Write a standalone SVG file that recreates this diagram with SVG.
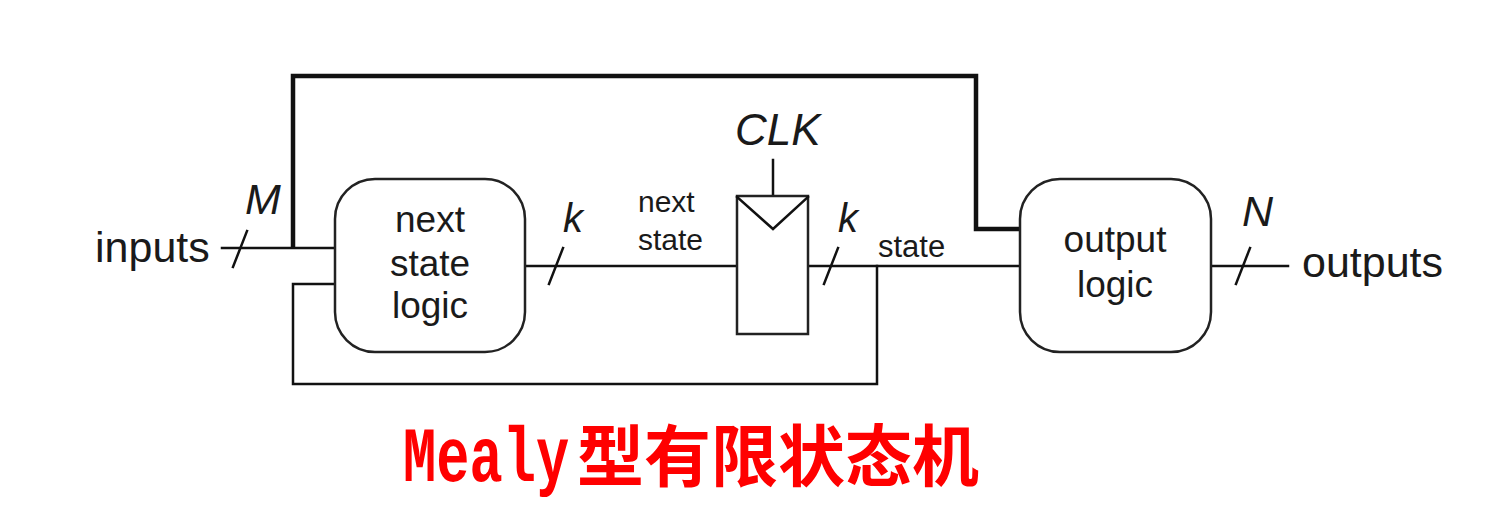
<svg xmlns="http://www.w3.org/2000/svg" width="1492" height="510" viewBox="0 0 1492 510">
<style>
.w{fill:none;stroke:#111;stroke-width:2.5;stroke-linecap:square}
.t{fill:none;stroke:#111;stroke-width:4.5;stroke-linejoin:miter}
.box{fill:#fff;stroke:#222;stroke-width:2.5}
.lb{font-family:"Liberation Sans",Arial,sans-serif;fill:#1a1a1a}
.it{font-style:italic}
.c{text-anchor:middle}
</style>
<rect width="1492" height="510" fill="#fff"/>
<g id="connectors">
<path class="t" d="M293,248 V76 H976 V229 H1020"/>
<path class="w" d="M222,248 H335"/>
<path class="w" d="M877,266 V384 H293 V284 H335"/>
<path class="w" d="M525,266 H737"/>
<path class="w" d="M808,266 H1020"/>
<path class="w" d="M773,160 V196"/>
<path class="w" d="M1211,266 H1288"/>
<g class="w">
<path d="M233,267 L247,231"/>
<path d="M549,284 L563,248"/>
<path d="M824,284 L838,248"/>
<path d="M1236,284 L1250,248"/>
</g>
</g>
<g id="next_state_logic">
<rect class="box" x="335" y="179" width="190" height="173" rx="40"/>
<text class="lb c" x="430" y="232" font-size="37">next</text>
<text class="lb c" x="430" y="276" font-size="37">state</text>
<text class="lb c" x="430" y="318" font-size="37">logic</text>
</g>
<g id="register">
<rect class="box" x="737" y="196" width="71" height="138"/>
<path class="w" d="M737,197 L773,229 L808,197"/>
</g>
<g id="output_logic">
<rect class="box" x="1020" y="179" width="191" height="173" rx="40"/>
<text class="lb c" x="1115" y="252" font-size="37">output</text>
<text class="lb c" x="1115" y="297" font-size="37">logic</text>
</g>
<g id="labels">
<text class="lb" x="95" y="262" font-size="43">inputs</text>
<text class="lb it" x="245" y="214" font-size="43">M</text>
<text class="lb it" x="563" y="232" font-size="40">k</text>
<text class="lb" x="638" y="212" font-size="30">next</text>
<text class="lb" x="638" y="250" font-size="30">state</text>
<text class="lb it" x="735" y="145" font-size="44">CLK</text>
<text class="lb it" x="838" y="232" font-size="40">k</text>
<text class="lb" x="878" y="257" font-size="31">state</text>
<text class="lb it" x="1242" y="226" font-size="43">N</text>
<text class="lb" x="1302" y="277" font-size="43">outputs</text>
</g>
<g id="title">
<text transform="translate(403,481) scale(0.71,1)" font-family="Liberation Mono,monospace" font-weight="bold" font-size="78" fill="#ff0000">Mealy</text>
<text x="577" y="481" font-family="Noto Sans CJK SC,sans-serif" font-weight="bold" font-size="67" fill="#ff0000">型有限状态机</text>
</g>
</svg>
